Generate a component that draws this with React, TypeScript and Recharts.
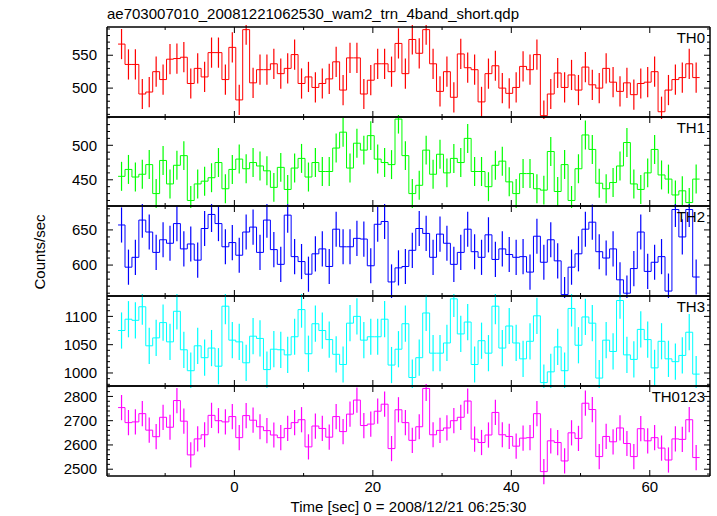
import React from "react";
import { ComposedChart, Line, Scatter, ErrorBar, XAxis, YAxis } from "recharts";

// 1 s bins, left edge of the first bin (sec from 2008/12/21 06:25:30)
const binStart = -16.8;
const binWidth = 1;

const th0 = [
  567, 536, 536, 491, 494, 525, 513, 544, 545, 547, 507, 530, 517, 554, 554, 513, 562, 482, 589, 508, 528,
  528, 537, 522, 530, 551, 507, 517, 501, 507, 514, 540, 497, 546, 546, 491, 512, 537, 537, 525, 568, 522,
  574, 553, 589, 537, 495, 525, 486, 552, 531, 528, 479, 522, 534, 500, 492, 501, 533, 528, 551, 458, 491,
  523, 501, 520, 497, 532, 505, 500, 530, 509, 495, 508, 490, 507, 509, 525, 464, 497, 513, 516, 537, 516,
];
const th1 = [
  455, 465, 454, 458, 472, 430, 478, 444, 471, 485, 420, 444, 448, 453, 475, 437, 465, 480, 466, 475, 470,
  463, 439, 468, 436, 467, 481, 454, 475, 462, 462, 496, 519, 467, 503, 493, 514, 480, 475, 472, 538, 485,
  430, 442, 493, 458, 487, 460, 481, 475, 510, 462, 462, 440, 471, 477, 447, 430, 459, 459, 437, 435, 491,
  433, 472, 420, 466, 515, 494, 445, 437, 446, 470, 504, 444, 436, 460, 494, 457, 451, 428, 434, 417, 451,
];
const th2 = [
  657, 597, 611, 664, 647, 618, 636, 631, 659, 623, 630, 607, 652, 672, 659, 626, 632, 614, 647, 654, 618,
  664, 622, 601, 671, 612, 605, 587, 616, 623, 598, 651, 626, 626, 638, 637, 599, 658, 662, 576, 596, 598,
  621, 652, 645, 611, 644, 631, 601, 618, 651, 619, 611, 643, 608, 623, 615, 611, 612, 590, 641, 604, 636,
  606, 558, 597, 616, 651, 661, 619, 610, 623, 579, 560, 595, 647, 591, 604, 612, 563, 679, 640, 679, 583,
];
const th3 = [
  1075, 1095, 1093, 1117, 1048, 1062, 1089, 1055, 1109, 1041, 1004, 1048, 1027, 1044, 1012, 1118, 1058,
  1055, 1018, 1065, 1061, 1006, 1042, 1041, 1032, 1064, 1112, 1034, 1087, 1075, 1059, 1033, 1015, 1088,
  1100, 1058, 1064, 1064, 1095, 1014, 1042, 1087, 992, 1027, 1106, 1035, 1035, 1053, 1131, 1069, 1090,
  1015, 1057, 1035, 1118, 1044, 1083, 1053, 1025, 1056, 1101, 983, 1002, 1046, 1004, 1114, 1049, 1099,
  1088, 991, 1058, 1038, 1128, 1032, 1024, 1077, 1059, 1009, 1056, 1025, 1020, 1031, 1072, 998,
];
const th0123 = [
  2754, 2692, 2695, 2729, 2661, 2634, 2714, 2673, 2783, 2698, 2559, 2625, 2642, 2722, 2700, 2695, 2717,
  2630, 2721, 2702, 2675, 2659, 2641, 2630, 2668, 2692, 2704, 2592, 2678, 2668, 2632, 2717, 2655, 2727,
  2785, 2680, 2686, 2739, 2768, 2585, 2745, 2692, 2619, 2675, 2833, 2642, 2660, 2670, 2700, 2714, 2781,
  2624, 2610, 2641, 2734, 2642, 2635, 2595, 2628, 2630, 2729, 2490, 2617, 2610, 2534, 2650, 2627, 2772,
  2746, 2552, 2635, 2613, 2670, 2606, 2552, 2667, 2617, 2630, 2587, 2538, 2625, 2623, 2704, 2548,
];

const panelNames = ["TH0", "TH1", "TH2", "TH3", "TH0123"];
const panelSeries = [th0, th1, th2, th3, th0123];
const panelColors = ["#ff0000", "#00ff00", "#0000ff", "#00ffff", "#ff00ff"];
// typical 1-sigma error per bin
const panelErrors = [23, 21, 25, 32, 52];
const panelDomains = [
  [456, 593],
  [412, 541],
  [556, 684],
  [977, 1136],
  [2472, 2843],
];
const panelMajorTicks = [
  [500, 550],
  [450, 500],
  [600, 650],
  [1000, 1050, 1100],
  [2500, 2600, 2700, 2800],
];
const panelMinorStep = [10, 10, 10, 10, 20];

const timeTicks = [-10, 0, 10, 20, 30, 40, 50, 60];
const timeLabels = [0, 20, 40, 60];
const timeDomain = [-18.4, 68.7];

const title = "ae703007010_20081221062530_wam2_trn_4band_short.qdp";
const xTitle = "Time [sec] 0 = 2008/12/21 06:25:30";
const yTitle = "Counts/sec";

const W = 717;
const plotLeft = 107;
const plotRight = 710;
const panelTops = [27, 117, 206, 296, 386];
const plotBottom = 476;
const pad = 2;
const font = "'Liberation Sans', Arial, Helvetica, sans-serif";
const frame = { stroke: "#000", strokeWidth: 1.5 };

function makeTicks(domain: number[], step: number) {
  const out: number[] = [];
  for (let v = Math.ceil(domain[0] / step) * step; v <= domain[1]; v += step) out.push(v);
  return out;
}

function Panel({ idx }: { idx: number }) {
  const values = panelSeries[idx];
  const color = panelColors[idx];
  const err = panelErrors[idx];
  const domain = panelDomains[idx];
  const majors = panelMajorTicks[idx];
  const last = idx === panelTops.length - 1;
  const top = panelTops[idx];
  const h = (last ? plotBottom : panelTops[idx + 1]) - top;
  const bottomMargin = last ? 40 : pad;

  const stepData = values.map((v, i) => ({ x: binStart + i * binWidth, y: v }));
  stepData.push({ x: binStart + values.length * binWidth, y: values[values.length - 1] });
  const pointData = values.map((v, i) => ({ x: binStart + (i + 0.5) * binWidth, y: v, err }));
  const yTicks = makeTicks(domain, panelMinorStep[idx]);

  const xTick = (dir: number, labels: boolean) => (p: any) => {
    const v = p.payload.value;
    const major = v % 20 === 0;
    return (
      <g>
        <line x1={p.x} x2={p.x} y1={p.y} y2={p.y + dir * (major ? 6 : 3)} stroke="#000" />
        {labels && timeLabels.includes(v) && (
          <text x={p.x} y={p.y + 11} dy="0.35em" textAnchor="middle" fontSize={15} fontFamily={font} fill="#000">
            {v}
          </text>
        )}
      </g>
    );
  };
  const yTick = (dir: number, labels: boolean) => (p: any) => {
    const v = p.payload.value;
    const major = majors.includes(v);
    return (
      <g>
        <line x1={p.x} x2={p.x + dir * (major ? 6 : 3)} y1={p.y} y2={p.y} stroke="#000" />
        {labels && major && (
          <text x={p.x - 10} y={p.y} dy="0.35em" textAnchor="end" fontSize={15} fontFamily={font} fill="#000">
            {v}
          </text>
        )}
      </g>
    );
  };

  return (
    <div style={{ position: "absolute", left: 0, top: top - pad }}>
      <ComposedChart
        width={W}
        height={h + pad + bottomMargin}
        margin={{ top: pad - 1, right: W - plotRight - 1, bottom: bottomMargin - 1, left: plotLeft - 1 }}
      >
        <XAxis
          xAxisId="b"
          dataKey="x"
          type="number"
          orientation="bottom"
          domain={timeDomain}
          allowDataOverflow
          ticks={timeTicks}
          interval={0}
          height={1}
          tickSize={0}
          tickMargin={0}
          tickLine={false}
          axisLine={frame}
          tick={xTick(-1, last)}
        />
        <XAxis
          xAxisId="t"
          dataKey="x"
          type="number"
          orientation="top"
          domain={timeDomain}
          allowDataOverflow
          ticks={timeTicks}
          interval={0}
          height={1}
          tickSize={0}
          tickMargin={0}
          tickLine={false}
          axisLine={frame}
          tick={xTick(1, false)}
        />
        <YAxis
          yAxisId="l"
          dataKey="y"
          type="number"
          orientation="left"
          domain={domain}
          allowDataOverflow
          ticks={yTicks}
          interval={0}
          width={1}
          tickSize={0}
          tickMargin={0}
          tickLine={false}
          axisLine={frame}
          tick={yTick(1, true)}
        />
        <YAxis
          yAxisId="r"
          dataKey="y"
          type="number"
          orientation="right"
          domain={domain}
          allowDataOverflow
          ticks={yTicks}
          interval={0}
          width={1}
          tickSize={0}
          tickMargin={0}
          tickLine={false}
          axisLine={frame}
          tick={yTick(-1, false)}
        />
        <Scatter
          xAxisId="b"
          yAxisId="l"
          data={pointData}
          dataKey="y"
          shape={() => <g />}
          isAnimationActive={false}
        >
          <ErrorBar dataKey="err" direction="y" width={0} stroke={color} strokeWidth={1.2} isAnimationActive={false} />
        </Scatter>
        <Line
          xAxisId="b"
          yAxisId="l"
          data={stepData}
          dataKey="y"
          type="stepAfter"
          stroke={color}
          strokeWidth={1}
          dot={false}
          activeDot={false}
          isAnimationActive={false}
        />
      </ComposedChart>
      <div
        style={{
          position: "absolute",
          right: W - plotRight + 5,
          top: pad + 2,
          fontSize: 15,
          fontFamily: font,
          color: "#000",
          lineHeight: "18px",
        }}
      >
        {panelNames[idx]}
      </div>
    </div>
  );
}

export default function App() {
  return (
    <div
      style={{
        position: "absolute",
        left: 0,
        top: 0,
        width: W,
        height: 516,
        background: "#fff",
        overflow: "hidden",
        fontFamily: font,
      }}
    >
      <div style={{ position: "absolute", left: plotLeft, top: 5, fontSize: 15, lineHeight: "18px", color: "#000" }}>
        {title}
      </div>
      {panelTops.map((_, i) => (
        <Panel key={panelNames[i]} idx={i} />
      ))}
      <div
        style={{
          position: "absolute",
          left: 40 - 60,
          top: (panelTops[0] + plotBottom) / 2 - 9,
          width: 120,
          textAlign: "center",
          fontSize: 15,
          lineHeight: "18px",
          transform: "rotate(-90deg)",
          color: "#000",
        }}
      >
        {yTitle}
      </div>
      <div
        style={{
          position: "absolute",
          left: plotLeft,
          width: plotRight - plotLeft,
          top: 498,
          textAlign: "center",
          fontSize: 15,
          lineHeight: "18px",
          color: "#000",
        }}
      >
        {xTitle}
      </div>
    </div>
  );
}
